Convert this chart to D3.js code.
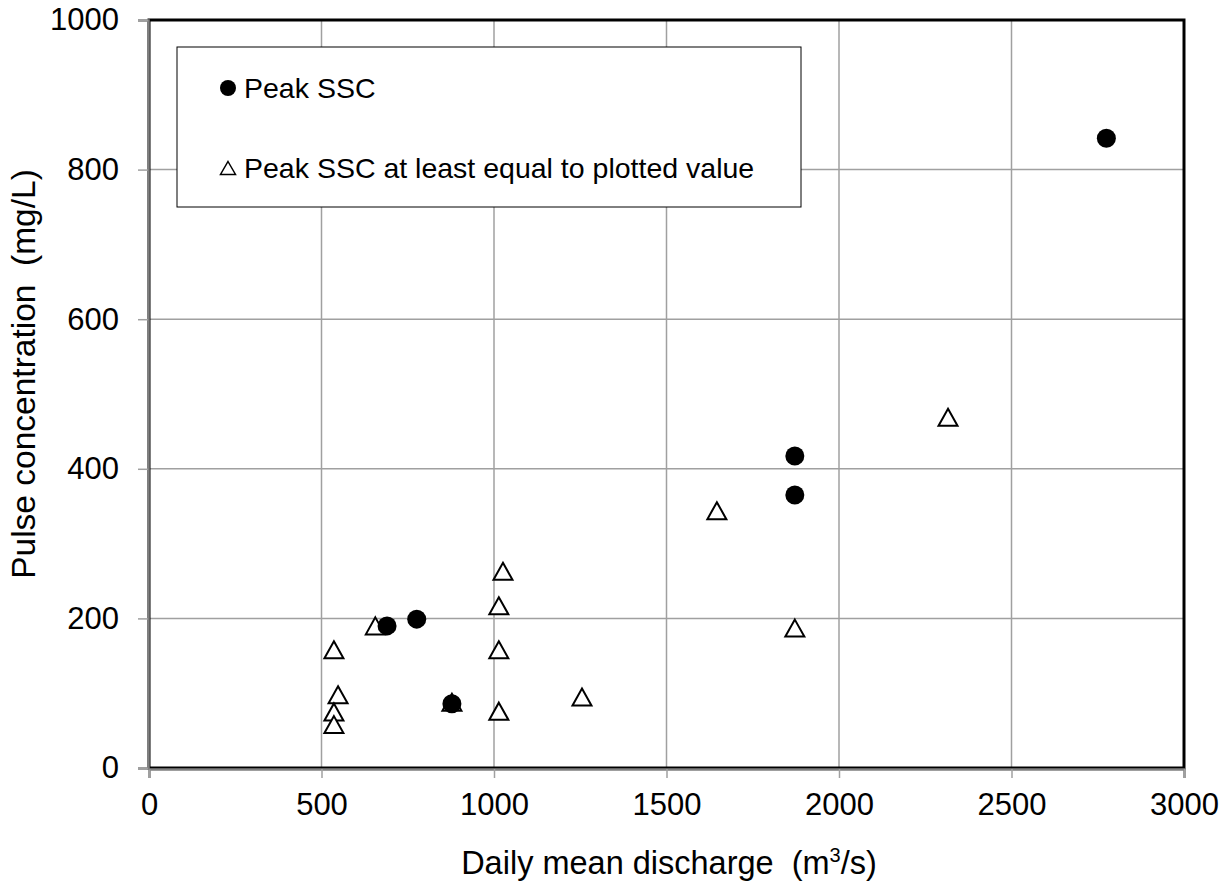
<!DOCTYPE html>
<html>
<head>
<meta charset="utf-8">
<script src="https://cdn.jsdelivr.net/npm/d3@7"></script>
<style>
  body { margin: 0; background: #fff; }
  text { font-family: "Liberation Sans", Arial, sans-serif; fill: #000; white-space: pre; }
</style>
</head>
<body>
<div id="chart"></div>
<script>
// Data
var peakQ = [690, 776, 878, 1872, 1872, 2775];
var peakC = [190, 199, 86, 417, 365, 842];

var leastQ = [656, 536, 548, 536, 536, 878, 1026, 1014, 1014, 1014, 1255, 1646, 1872, 2316];
var leastC = [190, 158, 98, 75, 58, 88, 263, 217, 158, 76, 95, 344, 187, 469];

var xTicks = [0, 500, 1000, 1500, 2000, 2500, 3000];
var yTicks = [0, 200, 400, 600, 800, 1000];

var legendLabels = ["Peak SSC", "Peak SSC at least equal to plotted value"];

// Define svg dimension
var svgWidth = 1231;
var svgHeight = 890;

// Define chart margins
var marginTop = 20;
var marginLeft = 149;
var marginRight = 47;
var marginBottom = 122;

var chartWidth = svgWidth - marginLeft - marginRight;
var chartHeight = svgHeight - marginTop - marginBottom;

var svg = d3.select("#chart")
  .append("svg")
  .attr("width", svgWidth)
  .attr("height", svgHeight);

var chartGroup = svg.append("g")
  .attr("transform", `translate(${marginLeft}, ${marginTop})`);

// Scales
var xScale = d3.scaleLinear().domain([0, 3000]).range([0, chartWidth]);
var yScale = d3.scaleLinear().domain([0, 1000]).range([chartHeight, 0]);

// Gridlines
chartGroup.append("g")
  .selectAll("line")
  .data(xTicks.slice(1, -1))
  .enter()
  .append("line")
  .attr("x1", d => xScale(d))
  .attr("x2", d => xScale(d))
  .attr("y1", 0)
  .attr("y2", chartHeight)
  .attr("stroke", "#a0a0a0")
  .attr("stroke-width", 1.5);

chartGroup.append("g")
  .selectAll("line")
  .data(yTicks.slice(1, -1))
  .enter()
  .append("line")
  .attr("x1", 0)
  .attr("x2", chartWidth)
  .attr("y1", d => yScale(d))
  .attr("y2", d => yScale(d))
  .attr("stroke", "#a0a0a0")
  .attr("stroke-width", 1.5);

// Plot frame
chartGroup.append("rect")
  .attr("x", 0)
  .attr("y", 0)
  .attr("width", chartWidth)
  .attr("height", chartHeight)
  .attr("fill", "none")
  .attr("stroke", "#000")
  .attr("stroke-width", 3);

// Axes
var axisX = d3.axisBottom(xScale).tickValues(xTicks).tickFormat(d3.format("d")).tickSize(9).tickPadding(15);
var axisY = d3.axisLeft(yScale).tickValues(yTicks).tickFormat(d3.format("d")).tickSize(10).tickPadding(19);

var gx = chartGroup.append("g")
  .attr("transform", `translate(0, ${chartHeight + 1})`)
  .call(axisX);

var gy = chartGroup.append("g")
  .attr("transform", "translate(-1, 0)")
  .call(axisY);

[gx, gy].forEach(function(g) {
  g.selectAll("path").attr("stroke", "#808080").attr("stroke-width", 2.5);
  g.selectAll("line").attr("stroke", "#a0a0a0").attr("stroke-width", 1.5);
  g.selectAll("text")
    .attr("font-size", 31)
    .attr("font-family", "Liberation Sans, Arial, sans-serif")
    .attr("fill", "#000");
});

// Triangle marker path
function triangle(w, h) {
  return `M0,${-h / 2}L${w / 2},${h / 2}L${-w / 2},${h / 2}Z`;
}

// Peak SSC at least equal to plotted value (open triangles)
var leastData = leastQ.map((q, i) => ({ q: q, c: leastC[i] }));
chartGroup.selectAll(".least")
  .data(leastData)
  .enter()
  .append("path")
  .attr("class", "least")
  .attr("d", triangle(19, 17))
  .attr("transform", d => `translate(${xScale(d.q)}, ${yScale(d.c)})`)
  .attr("fill", "#fff")
  .attr("stroke", "#000")
  .attr("stroke-width", 2);

// Peak SSC (filled circles)
var peakData = peakQ.map((q, i) => ({ q: q, c: peakC[i] }));
chartGroup.selectAll(".peak")
  .data(peakData)
  .enter()
  .append("circle")
  .attr("class", "peak")
  .attr("cx", d => xScale(d.q))
  .attr("cy", d => yScale(d.c))
  .attr("r", 9.5)
  .attr("fill", "#000");

// Legend
var legend = svg.append("g").attr("transform", "translate(177, 47)");
legend.append("rect")
  .attr("width", 624)
  .attr("height", 160)
  .attr("fill", "#fff")
  .attr("stroke", "#000")
  .attr("stroke-width", 1);

legend.append("circle")
  .attr("cx", 51)
  .attr("cy", 41)
  .attr("r", 8)
  .attr("fill", "#000");

legend.append("path")
  .attr("d", triangle(15, 13))
  .attr("transform", "translate(51, 121)")
  .attr("fill", "#fff")
  .attr("stroke", "#000")
  .attr("stroke-width", 1.5);

legend.selectAll(".legtext")
  .data(legendLabels)
  .enter()
  .append("text")
  .attr("class", "legtext")
  .attr("x", 67)
  .attr("y", (d, i) => 41 + i * 80)
  .attr("dy", "0.35em")
  .attr("font-size", 28.5)
  .text(d => d);

// Axis titles
var xTitle = svg.append("text")
  .attr("x", 669)
  .attr("y", 874)
  .attr("text-anchor", "middle")
  .attr("font-size", 32.5);
xTitle.append("tspan").text("Daily mean discharge  (m");
xTitle.append("tspan").attr("font-size", 20).attr("dy", -12).text("3");
xTitle.append("tspan").attr("dy", 12).text("/s)");

svg.append("g")
  .attr("transform", "translate(35, 374)")
  .append("text")
  .attr("text-anchor", "middle")
  .attr("transform", "rotate(-90)")
  .attr("font-size", 33.5)
  .text("Pulse concentration  (mg/L)");
</script>
</body>
</html>
